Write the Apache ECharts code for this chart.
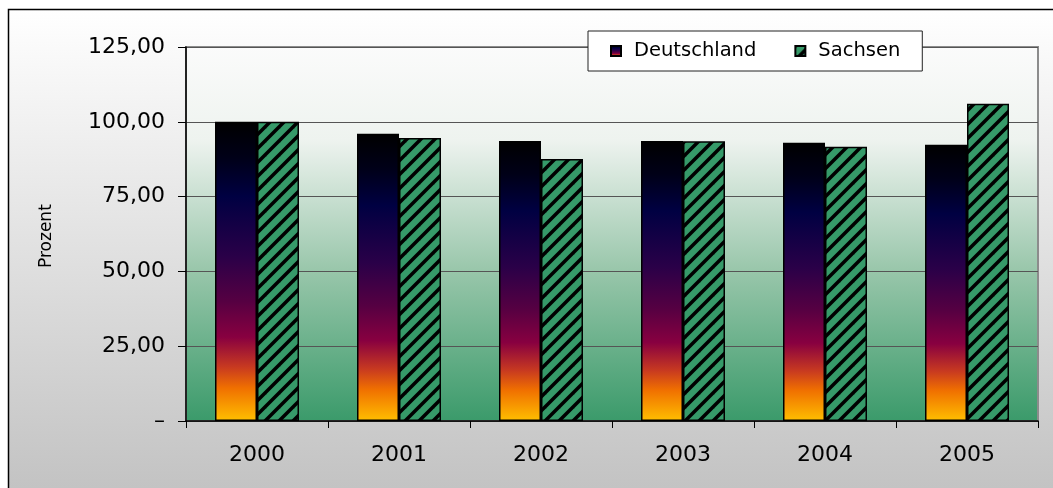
<!DOCTYPE html>
<html>
<head>
<meta charset="utf-8">
<script src="https://cdn.jsdelivr.net/npm/echarts@6/dist/echarts.min.js"></script>
<style>
  html, body { margin: 0; padding: 0; background: #fff; }
  #chart { width: 1053px; height: 488px; }
</style>
</head>
<body>
<div id="chart"></div>
<script>
const years = ['2000', '2001', '2002', '2003', '2004', '2005'];
const deutschland = [100.0, 96.0, 93.6, 93.6, 93.0, 92.3];
const sachsen = [100.0, 94.6, 87.6, 93.5, 91.7, 106.0];
const yTicks = [0, 25, 50, 75, 100, 125];

const FONT = 'DejaVu Sans';

// hatched green fill for Sachsen
function stripePattern() {
  const c = document.createElement('canvas');
  c.width = 14;
  c.height = 14;
  const ctx = c.getContext('2d');
  ctx.fillStyle = '#369a69';
  ctx.fillRect(0, 0, 14, 14);
  ctx.strokeStyle = '#000';
  ctx.lineWidth = 3.5;
  for (let o = -14; o <= 14; o += 14) {
    ctx.beginPath();
    ctx.moveTo(o - 2, 16);
    ctx.lineTo(o + 16, -2);
    ctx.stroke();
  }
  return c;
}

const sunset = {
  type: 'linear', x: 0, y: 0, x2: 0, y2: 1,
  colorStops: [
    { offset: 0, color: '#000000' },
    { offset: 0.12, color: '#000018' },
    { offset: 0.25, color: '#000042' },
    { offset: 0.45, color: '#2a0048' },
    { offset: 0.6, color: '#560042' },
    { offset: 0.72, color: '#880040' },
    { offset: 0.82, color: '#c83a20' },
    { offset: 0.89, color: '#f07000' },
    { offset: 1, color: '#ffbf00' }
  ]
};

var myChart = echarts.init(document.getElementById('chart'));

var option = {
  animation: false,
  textStyle: { fontFamily: FONT },
  graphic: [{
    type: 'rect',
    z: -10,
    silent: true,
    shape: { x: 8.5, y: 9.5, width: 1200, height: 600 },
    style: {
      fill: {
        type: 'linear', global: true,
        x: 0, y: 9, x2: 0, y2: 488,
        colorStops: [
          { offset: 0, color: '#ffffff' },
          { offset: 1, color: '#c3c3c3' }
        ]
      },
      stroke: '#000',
      lineWidth: 1.5
    }
  }, {
    type: 'text',
    rotation: Math.PI / 2,
    style: {
      text: 'Prozent',
      font: '17px "DejaVu Sans"',
      fill: '#000'
    },
    x: 38, y: 268
  }],
  legend: {
    left: 588,
    top: 31,
    padding: [10, 22, 10, 22],
    itemGap: 38,
    itemWidth: 10,
    itemHeight: 10,
    icon: 'rect',
    backgroundColor: '#fff',
    borderColor: '#222',
    borderWidth: 1,
    textStyle: { fontSize: 19.5, fontFamily: FONT, color: '#000', padding: [0, 0, 0, 8] },
    data: ['Deutschland', 'Sachsen']
  },
  grid: {
    left: 186,
    right: 15,
    top: 47,
    bottom: 67,
    show: true,
    borderColor: '#8c8c8c',
    borderWidth: 2,
    backgroundColor: {
      type: 'linear', x: 0, y: 0, x2: 0, y2: 1,
      colorStops: [
        { offset: 0, color: '#fbfbfb' },
        { offset: 0.25, color: '#eef3ef' },
        { offset: 0.6, color: '#98c6aa' },
        { offset: 1, color: '#3a9a6a' }
      ]
    }
  },
  xAxis: {
    type: 'category',
    data: years,
    axisLine: { lineStyle: { color: '#000', width: 1.5 } },
    axisTick: { show: true, length: 7, lineStyle: { color: '#000' } },
    axisLabel: { fontSize: 22, fontFamily: FONT, color: '#000', margin: 23 }
  },
  yAxis: {
    type: 'value',
    min: 0,
    max: 125,
    interval: 25,
    axisLine: { show: true, lineStyle: { color: '#000', width: 1.5 } },
    axisTick: { show: true, length: 8, lineStyle: { color: '#000' } },
    splitLine: { lineStyle: { color: '#555', width: 1 } },
    axisLabel: {
      fontSize: 22,
      fontFamily: FONT,
      color: '#000',
      margin: 21,
      formatter: function (v) {
        if (yTicks.indexOf(v) < 0) return '';
        return v === 0 ? '–' : v.toFixed(2).replace('.', ',');
      }
    }
  },
  series: [{
    name: 'Deutschland',
    type: 'bar',
    barWidth: 42,
    barGap: '0%',
    data: deutschland,
    itemStyle: { color: sunset, borderColor: '#000', borderWidth: 1.5 }
  }, {
    name: 'Sachsen',
    type: 'bar',
    barWidth: 42,
    barGap: '0%',
    data: sachsen,
    itemStyle: {
      color: { image: stripePattern(), repeat: 'repeat' },
      borderColor: '#000',
      borderWidth: 1.5
    }
  }]
};

myChart.setOption(option);
</script>
</body>
</html>
